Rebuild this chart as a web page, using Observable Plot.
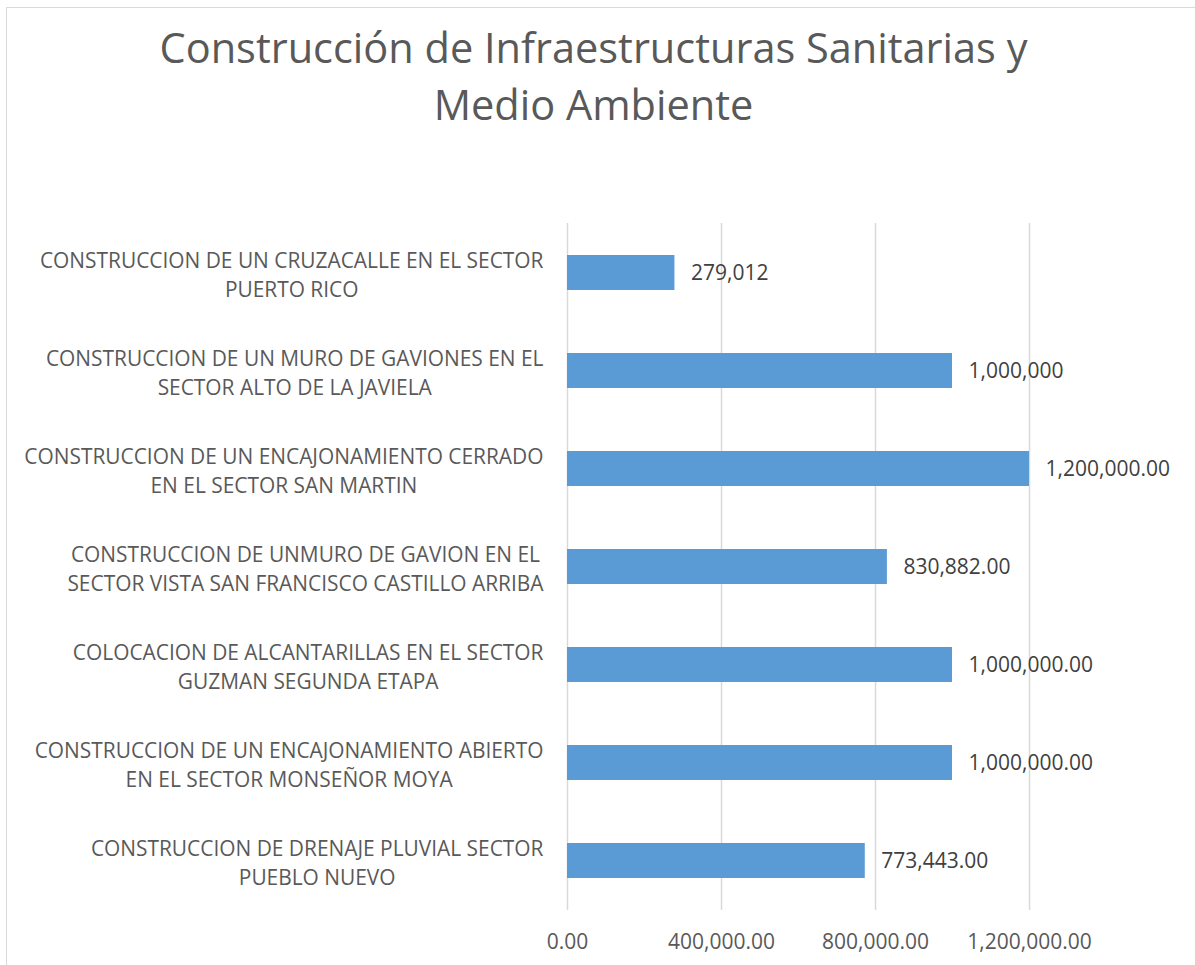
<!DOCTYPE html>
<html>
<head>
<meta charset="utf-8">
<script src="https://cdn.jsdelivr.net/npm/d3@7"></script>
<script src="https://cdn.jsdelivr.net/npm/@observablehq/plot@0.6"></script>
<style>
  html, body { margin: 0; padding: 0; background: #fff; }
  body { width: 1195px; height: 965px; overflow: hidden; position: relative; font-family: "Open Sans", sans-serif; }
  #frame { position: absolute; left: 6px; top: 7px; width: 1400px; height: 1200px; border-left: 1.5px solid #d9d9d9; border-top: 1.5px solid #d9d9d9; box-sizing: border-box; pointer-events: none; }
  #title { position: absolute; left: 6px; top: 0; width: 1175px; height: 150px; text-align: center; color: #595959; font-size: 41.5px; line-height: 57px; padding-top: 19px; box-sizing: border-box; white-space: nowrap; }
  #chart { position: absolute; left: 0; top: 150px; }
</style>
</head>
<body>
<div id="frame"></div>
<div id="title">Construcción de Infraestructuras Sanitarias y<br>Medio Ambiente</div>
<div id="chart"></div>
<script>
const categories = [
  "CONSTRUCCION DE UN CRUZACALLE EN EL SECTOR\nPUERTO RICO",
  "CONSTRUCCION DE UN MURO DE GAVIONES EN EL\nSECTOR ALTO DE LA JAVIELA",
  "CONSTRUCCION DE UN ENCAJONAMIENTO CERRADO\nEN EL SECTOR SAN MARTIN",
  "CONSTRUCCION DE UNMURO DE GAVION EN EL\nSECTOR VISTA SAN FRANCISCO CASTILLO ARRIBA",
  "COLOCACION DE ALCANTARILLAS EN EL SECTOR\nGUZMAN SEGUNDA ETAPA",
  "CONSTRUCCION DE UN ENCAJONAMIENTO ABIERTO\nEN EL SECTOR MONSEÑOR MOYA",
  "CONSTRUCCION DE DRENAJE PLUVIAL SECTOR\nPUEBLO NUEVO"
];
const values = [279012, 1000000, 1200000, 830882, 1000000, 1000000, 773443];
const valueLabels = ["279,012", "1,000,000", "1,200,000.00", "830,882.00", "1,000,000.00", "1,000,000.00", "773,443.00"];
const xTicks = [0, 400000, 800000, 1200000];

const data = categories.map((c, i) => ({category: c, value: values[i], label: valueLabels[i]}));

const svg = Plot.plot({
  width: 1195,
  height: 815,
  marginLeft: 567,
  marginRight: 166,
  marginTop: 73,
  marginBottom: 55,
  style: {fontFamily: "Open Sans", fontSize: "21px", color: "#595959", background: "transparent"},
  x: {domain: [0, 1200000], ticks: xTicks, tickFormat: d3.format(",.2f"), label: null},
  y: {domain: categories, paddingInner: 0.644, paddingOuter: 0.322, label: null},
  marks: [
    Plot.ruleX(xTicks, {stroke: "#d9d9d9", strokeWidth: 1.5, strokeOpacity: 1}),
    Plot.barX(data, {x: "value", y: "category", fill: "#5B9BD5"}),
    Plot.text(data, {x: "value", y: "category", text: "label", textAnchor: "start", dx: 16, fill: "#404040", fontSize: 21}),
    Plot.axisX({ticks: xTicks, tickFormat: d3.format(",.2f"), tickSize: 0, tickPadding: 24, fontSize: 21, color: "#595959", label: null}),
    Plot.axisY({tickSize: 0, tickPadding: 24, fontSize: 20.9, lineHeight: 1.38, color: "#595959", label: null})
  ]
});
document.getElementById("chart").append(svg);

// Center the lines of each multi-line category label on each other (block stays right-aligned)
svg.querySelectorAll('g[aria-label="y-axis tick label"] text').forEach(t => {
  const spans = t.querySelectorAll("tspan");
  let w = 0;
  if (spans.length) spans.forEach(s => { w = Math.max(w, s.getComputedTextLength()); });
  else w = t.getComputedTextLength();
  t.setAttribute("text-anchor", "middle");
  const tr = t.getAttribute("transform") || "";
  t.setAttribute("transform", tr + ` translate(${-w / 2},0)`);
});
</script>
</body>
</html>
